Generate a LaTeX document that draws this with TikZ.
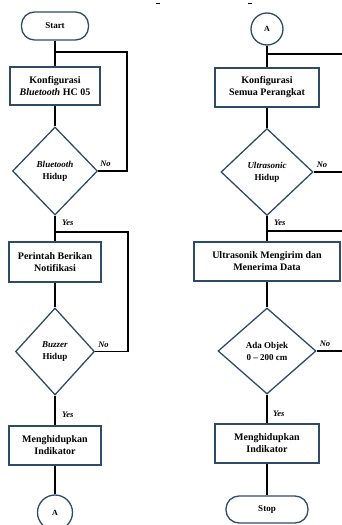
\documentclass[tikz,border=0pt]{standalone}
\usepackage{fontspec}
\setmainfont{Liberation Serif}
\usepackage{tikz}
\usetikzlibrary{shapes.geometric}
\definecolor{navy}{HTML}{2F4B6A}
\tikzset{
  blk/.style={draw=navy, line width=1.3pt, align=center,
              font=\bfseries\fontsize{10}{12}\selectfont, inner sep=1pt},
  procb/.style={blk, rectangle},
  decb/.style={blk, diamond, inner sep=0pt, font=\bfseries\fontsize{9}{12}\selectfont},
  termb/.style={blk, rectangle, rounded corners=13pt, font=\bfseries\fontsize{9}{11}\selectfont},
  connb/.style={blk, circle, inner sep=0pt, font=\bfseries\fontsize{8}{10}\selectfont},
  flow/.style={line width=1.5pt, draw=black},
  lbl/.style={font=\bfseries\itshape\fontsize{8.5}{10}\selectfont, inner sep=0pt},
}
\begin{document}
\begin{tikzpicture}[x=1pt, y=-1pt]
  \useasboundingbox (0,0) rectangle (342,525);
  % left column
  \node[termb, minimum width=67pt, minimum height=28pt] (start) at (55,26) {Start};
  \node[procb, minimum width=90pt, minimum height=38pt] (k1) at (55,86) {Konfigurasi\\\textit{Bluetooth} HC 05};
  \node[decb, minimum width=85pt, minimum height=88pt] (d1) at (55,171) {\textit{Bluetooth}\\Hidup};
  \node[procb, minimum width=92pt, minimum height=40pt] (p1) at (55,262) {Perintah Berikan\\Notifikasi};
  \node[decb, minimum width=79pt, minimum height=87pt] (d2) at (55,351.5) {\textit{Buzzer}\\Hidup};
  \node[procb, minimum width=92pt, minimum height=39pt] (m1) at (55,445.5) {Menghidupkan\\Indikator};
  \node[connb, minimum size=35pt] (a1) at (55,512.5) {A};
  \coordinate (j1) at (55,52);
  \coordinate (j2) at (55,232);
  % right column
  \node[connb, minimum size=32pt] (a2) at (267,29) {A};
  \node[procb, minimum width=104pt, minimum height=39pt] (k2) at (267,87.5) {Konfigurasi\\Semua Perangkat};
  \node[decb, minimum width=92pt, minimum height=87pt] (d3) at (267,172) {\textit{Ultrasonic}\\Hidup};
  \node[procb, minimum width=146pt, minimum height=39pt] (u1) at (267,261.5) {Ultrasonik Mengirim dan\\Menerima Data};
  \node[decb, minimum width=98pt, minimum height=86pt] (d4) at (267,351) {Ada Objek\\0 -- 200 cm};
  \node[procb, minimum width=104pt, minimum height=39pt] (m2) at (267,443.5) {Menghidupkan\\Indikator};
  \node[termb, minimum width=82pt, minimum height=27pt] (stop) at (267,509.5) {Stop};
  \coordinate (j3) at (267,54);
  \coordinate (j4) at (267,231);
  \coordinate (edge) at (342,0);

  \draw[flow] (start) -- (k1); \draw[flow] (k1) -- (d1); \draw[flow] (d1) -- (p1);
  \draw[flow] (p1) -- (d2); \draw[flow] (d2) -- (m1); \draw[flow] (m1) -- (a1);
  \draw[flow] (d1.east) -- ++(29,0) |- (j1);
  \draw[flow] (d2.east) -- ++(33,0) |- (j2);
  \draw[flow] (a2) -- (k2); \draw[flow] (k2) -- (d3); \draw[flow] (d3) -- (u1);
  \draw[flow] (u1) -- (d4); \draw[flow] (d4) -- (m2); \draw[flow] (m2) -- (stop);
  \draw[flow] (j3) -- (j3 -| edge);
  \draw[flow] (j4) -- (j4 -| edge);
  \draw[flow] (d3.east) -- (d3.east -| edge);
  \draw[flow] (d4.east) -- (d4.east -| edge);

  \node[lbl, anchor=south west] (n1) at ([shift={(2,-4)}]d1.east) {No};
  \node[lbl, anchor=south west] (n2) at ([shift={(3,-4)}]d2.east) {No};
  \node[lbl, anchor=south west] (n3) at ([shift={(3,-4)}]d3.east) {No};
  \node[lbl, anchor=south west] (n4) at ([shift={(3,-4)}]d4.east) {No};
  \node[lbl, anchor=west] (y1) at ([shift={(7,7)}]d1.south) {Yes};
  \node[lbl, anchor=west] (y2) at ([shift={(7,-11)}]m1.north) {Yes};
  \node[lbl, anchor=west] (y3) at ([shift={(7,7)}]d3.south) {Yes};
  \node[lbl, anchor=west] (y4) at ([shift={(6,-10)}]m2.north) {Yes};

  \draw[line width=0.8pt] (156,3) -- (160,3);
  \draw[line width=0.8pt] (248,3) -- (252,3);
\end{tikzpicture}
\end{document}
